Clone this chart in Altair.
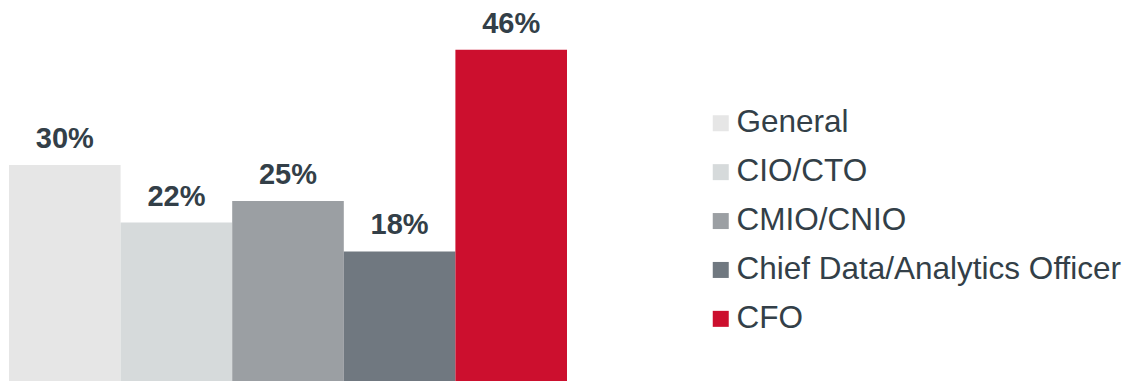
import altair as alt
import pandas as pd

categories = ["General", "CIO/CTO", "CMIO/CNIO", "Chief Data/Analytics Officer", "CFO"]
values = [30, 22, 25, 18, 46]
labels = ["30%", "22%", "25%", "18%", "46%"]
colors = ["#E6E6E6", "#D6DADB", "#9B9FA3", "#707880", "#CC0F2E"]

df = pd.DataFrame({"role": categories, "value": values, "label": labels})

x_enc = alt.X("role:N", sort=categories, axis=None,
              scale=alt.Scale(paddingInner=0, paddingOuter=0))
y_scale = alt.Scale(domain=[0, 51.8], nice=False, zero=True)

bars = alt.Chart(df).mark_bar().encode(
    x=x_enc,
    y=alt.Y("value:Q", axis=None, scale=y_scale),
    color=alt.Color("role:N", sort=categories,
                    scale=alt.Scale(domain=categories, range=colors),
                    legend=alt.Legend(
                        title=None, orient="none", legendX=696, legendY=99.5,
                        symbolType="square", symbolSize=256, symbolStrokeWidth=0,
                        labelFont="Liberation Sans", labelFontSize=31.5,
                        labelColor="#333F48", labelOffset=0, rowPadding=15.9,
                        padding=0, labelLimit=600)),
)

text = alt.Chart(df).mark_text(
    baseline="alphabetic", dy=-17, font="Liberation Sans", fontSize=29,
    fontWeight="bold", color="#333F48"
).encode(
    x=x_enc,
    y=alt.Y("value:Q", axis=None, scale=y_scale),
    text="label:N",
)

chart = (bars + text).properties(
    width=558, height=373,
    padding={"left": 1, "top": 0, "right": 0, "bottom": 0},
).configure_view(stroke=None)

chart.save("out.html", embed_options={"renderer": "svg", "actions": False})
